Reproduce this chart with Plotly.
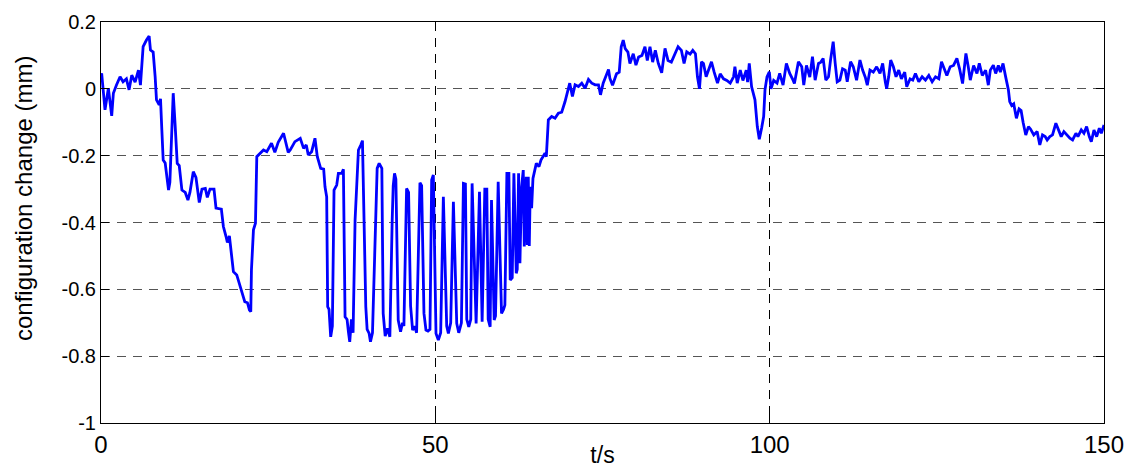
import plotly.graph_objects as go

# time samples (s) and configuration change (mm) traced along the record
t_s = [
    0, 0.1, 0.6, 1.1, 1.6, 1.85, 2.3, 2.85, 3.3, 3.8, 4.2, 4.6, 5.1, 5.6, 5.9,
    6.3, 6.8, 7.2, 7.4, 7.8, 8.1, 8.3, 8.7, 8.9, 9.1, 9.3, 9.6, 10.1, 10.3, 10.6,
    10.8, 11.1, 11.4, 11.7, 12.1, 12.6, 13.0, 13.3, 13.8, 14.2, 14.7, 15.1, 15.6,
    15.9, 16.3, 16.9, 17.2, 18.0, 18.3, 18.7, 18.9, 19.2, 19.8, 20.3, 20.8, 21.2,
    21.5, 21.9, 22.2, 22.4, 22.5, 22.8, 23.1, 23.3, 23.8, 24.3, 24.8, 25.5, 26.0,
    26.5, 27.3, 28.0,
    28.3, 29.0, 29.8, 30.3, 30.7, 31.0, 31.5, 32.0, 32.35, 32.85, 33.3, 33.5,
    33.75, 33.9, 34.1, 34.35, 34.6, 34.85, 35.25, 35.5, 36.0, 36.25, 36.5, 36.8,
    37.0, 37.2, 37.45, 37.7, 38.0, 38.2, 38.5, 38.85, 39.1, 39.6, 39.8, 40.1,
    40.3, 40.6, 41.1, 41.3, 41.6, 42.0, 42.2, 42.5, 42.85, 43.2, 43.55, 43.7,
    43.9, 44.1, 44.45, 44.8, 45.1, 45.3, 45.7, 46.0, 46.3, 46.6, 46.9, 47.2,
    47.7, 47.95, 48.3, 48.6, 48.9, 49.2, 49.45, 49.7, 50.1, 50.45, 50.8, 51.2,
    51.7, 51.95, 52.3, 52.7, 53.2, 53.5, 53.9, 54.2, 54.5, 54.7, 55.0, 55.3,
    55.5, 56.0, 56.1, 56.6, 57.0, 57.4, 57.7, 57.9, 58.2, 58.4, 58.8, 59.0,
    59.4, 59.9, 60.2, 60.4, 60.7, 61.0, 61.2, 61.5, 61.75, 62.1, 62.25, 62.45,
    62.65, 62.9, 63.15, 63.3, 63.6, 63.75, 63.9, 64.05, 64.2, 64.4, 64.6, 65.1,
    65.5, 65.8, 66.4, 66.6, 66.9,
    67.4, 67.9, 68.4, 68.9, 69.4, 69.9, 70.1, 70.5, 70.9, 71.4, 71.9, 72.4,
    72.9, 73.4, 73.9, 74.4, 74.7, 75.1, 75.5, 75.9, 76.1, 76.5, 77.1, 77.5,
    77.8, 78.1, 78.4, 78.8, 79.1, 79.6, 80.0, 80.4, 80.9, 81.35, 81.7, 82.1,
    82.5, 82.9, 83.35, 83.85, 84.35, 84.8, 85.3, 85.8, 86.3, 86.8, 87.2, 87.6,
    88.1, 88.5, 88.9, 89.2, 89.5, 89.8, 90.1, 90.5, 90.85, 91.3, 91.7, 92.2,
    92.6, 93.1, 93.6, 94.1, 94.6, 94.8, 95.15, 95.6, 96.0, 96.5, 96.7, 96.95,
    97.3, 97.8, 98.15, 98.45, 98.8, 99.1, 99.3, 99.6, 99.95, 100.2, 100.6,
    101.1, 101.5, 102.0, 102.5, 103.0, 103.5, 103.7, 104.3,
    104.8, 105.1, 105.5, 106.0, 106.4, 106.8, 107.3, 107.65, 108.0, 108.4,
    108.8, 109.1, 109.5, 109.8, 110.1, 110.5, 110.9, 111.3, 111.6, 112.1,
    112.5, 113.0, 113.5, 113.9, 114.3, 114.6, 115.0, 115.5, 116.0, 116.5,
    116.9, 117.3, 117.5, 117.8, 118.1, 118.5, 118.9, 119.3, 119.7, 120.2,
    120.5, 121.0, 121.4, 121.8, 122.3, 122.8, 123.3, 123.8, 124.3, 124.8,
    125.3, 125.7, 126.1, 126.5, 127.0, 127.5, 128.0, 128.4, 128.85, 129.35,
    129.7, 130.0, 130.5, 131.0, 131.35, 131.8, 132.3, 132.7, 133.0, 133.45,
    133.8, 134.2, 134.5, 134.9, 135.3, 135.7, 135.9, 136.2, 136.5, 136.9,
    137.3, 137.6, 137.9, 138.3, 138.7, 139.0, 139.5, 140.0, 140.4, 140.8,
    141.2, 141.5, 141.9, 142.3, 142.8, 143.15, 143.6, 144.0, 144.4, 144.9,
    145.3, 145.8, 146.1, 146.6, 147.0, 147.4, 147.8, 148.1, 148.5, 148.9,
    149.3, 149.6, 150.0,
]

change_mm = [
    0.04, 0.046, -0.063, 0.002, -0.081, -0.013, 0.011, 0.036, 0.021, 0.03,
    -0.003, 0.041, 0.02, 0.056, 0.011, 0.126, 0.146, 0.158, 0.116, 0.11, 0.036,
    -0.033, -0.048, -0.03, -0.123, -0.213, -0.222, -0.303, -0.28, -0.143,
    -0.013, -0.113, -0.223, -0.23, -0.303, -0.31, -0.333, -0.31, -0.248,
    -0.265, -0.34, -0.30, -0.298, -0.325, -0.30, -0.30, -0.357, -0.36, -0.412,
    -0.442, -0.46, -0.44, -0.547, -0.557, -0.592, -0.622, -0.637, -0.64,
    -0.662, -0.667, -0.542, -0.422, -0.402, -0.203, -0.193, -0.183, -0.188,
    -0.163, -0.19, -0.16, -0.133, -0.19,
    -0.183, -0.158, -0.148, -0.178, -0.168, -0.198, -0.188, -0.148, -0.203,
    -0.238, -0.24, -0.293, -0.323, -0.652, -0.66, -0.742, -0.71, -0.303,
    -0.288, -0.253, -0.253, -0.241, -0.682, -0.69, -0.727, -0.757, -0.69,
    -0.73, -0.392, -0.298, -0.183, -0.168, -0.155, -0.652, -0.72, -0.732,
    -0.757, -0.73, -0.392, -0.238, -0.223, -0.238, -0.672, -0.74, -0.717,
    -0.742, -0.392, -0.29, -0.253, -0.27, -0.692, -0.727, -0.70, -0.71,
    -0.298, -0.31, -0.65, -0.722, -0.71, -0.73, -0.281, -0.29, -0.672,
    -0.722, -0.725, -0.72, -0.273, -0.258, -0.732, -0.752, -0.73, -0.323,
    -0.71, -0.732, -0.70, -0.338, -0.702, -0.73, -0.70, -0.283, -0.285,
    -0.69, -0.712, -0.69, -0.283, -0.69, -0.702, -0.308, -0.697, -0.30,
    -0.30, -0.69, -0.712, -0.333, -0.692, -0.68, -0.278, -0.672, -0.66,
    -0.647, -0.253, -0.253, -0.572, -0.565, -0.253, -0.552, -0.54, -0.253,
    -0.522, -0.293, -0.243, -0.472, -0.263, -0.467, -0.263, -0.47, -0.293,
    -0.357, -0.268, -0.223, -0.233, -0.213, -0.193, -0.203, -0.093,
    -0.083, -0.088, -0.073, -0.07, -0.038, 0.002, 0.017, -0.023, 0.012,
    0.007, 0.017, 0.002, 0.028, 0.017, 0.012, 0.012, -0.018, 0.017, 0.037,
    0.058, 0.032, 0.011, 0.045, 0.05, 0.126, 0.146, 0.12, 0.11, 0.076, 0.105,
    0.071, 0.095, 0.10, 0.126, 0.085, 0.126, 0.08, 0.115, 0.076, 0.048,
    0.121, 0.085, 0.08, 0.105, 0.126, 0.115, 0.076, 0.111, 0.104, 0.115,
    0.105, 0.036, 0.0, 0.081, 0.076, 0.036, 0.056, 0.081, 0.05, 0.017, 0.045,
    0.03, 0.025, 0.017, 0.036, 0.066, 0.017, 0.056, 0.025, 0.056, 0.02,
    0.076, 0.006, -0.033, -0.113, -0.151, -0.117, -0.083, -0.003, 0.036,
    0.051, 0.0, 0.025, 0.017, 0.046, 0.011, 0.076, 0.046, 0.026, 0.016, 0.081,
    0.066, 0.011, 0.07, 0.035, 0.096, 0.026, 0.076, 0.08, 0.091, 0.026,
    0.036, 0.086, 0.141, 0.076, 0.021, 0.026, 0.06, 0.056, 0.021, 0.081,
    0.066, 0.026, 0.086, 0.056, 0.035, 0.011, 0.056, 0.05, 0.066, 0.046,
    0.076, 0.02, 0.0, 0.036, 0.086, 0.066, 0.036, 0.056, 0.03, 0.05,
    0.006, 0.03, 0.026, 0.046, 0.021, 0.036, 0.026, 0.04, 0.021, 0.036,
    0.03, 0.081, 0.06, 0.04, 0.066, 0.07, 0.091, 0.06, 0.016, 0.106,
    0.066, 0.026, 0.07, 0.046, 0.076, 0.04, 0.056, 0.011, 0.056, 0.071,
    0.046, 0.07, 0.05, 0.076, 0.035, -0.003, -0.038, -0.05, -0.045, -0.088,
    -0.06, -0.065, -0.1, -0.138, -0.113, -0.12, -0.138, -0.128, -0.168, -0.138,
    -0.143, -0.153, -0.143, -0.138, -0.103, -0.123, -0.143, -0.128, -0.138, -0.148,
    -0.153, -0.133, -0.143, -0.123, -0.133, -0.113, -0.143, -0.158, -0.123, -0.143,
    -0.118, -0.133, -0.108,
]

x_ticks = [0, 50, 100, 150]
y_ticks = [-1, -0.8, -0.6, -0.4, -0.2, 0, 0.2]
y_tick_text = ["-1", "-0.8", "-0.6", "-0.4", "-0.2", "0", "0.2"]

sans = "Liberation Sans, Arial, sans-serif"
narrow = "Liberation Sans Narrow, Arial Narrow, Liberation Sans, sans-serif"

# plot area in pixels
W, H = 1129, 468
ML, MR, MT, MB = 101, 25, 22, 45
plot_w = W - ML - MR
plot_h = H - MT - MB

fig = go.Figure()
fig.add_trace(go.Scatter(
    x=t_s, y=change_mm, mode="lines",
    line=dict(color="#0000ff", width=2.8),
    showlegend=False, hoverinfo="skip",
))

fig.update_layout(
    width=W, height=H,
    margin=dict(l=ML, r=MR, t=MT, b=MB),
    paper_bgcolor="white", plot_bgcolor="white",
    font=dict(family=sans, size=20, color="black"),
)

fig.update_xaxes(
    range=[0, 150], tickvals=x_ticks, ticktext=[str(v) for v in x_ticks],
    automargin=False,
    showline=True, linecolor="black", linewidth=1, mirror="allticks",
    ticks="inside", ticklen=8, tickcolor="black",
    showgrid=True, gridcolor="black", gridwidth=1, griddash="9px,7px",
    zeroline=False,
    tickfont=dict(family=narrow, size=24),
    title=dict(text="t/s", font=dict(family=narrow, size=23), standoff=0),
)
fig.update_yaxes(
    range=[-1, 0.2], tickvals=y_ticks, ticktext=y_tick_text,
    automargin=False,
    showline=True, linecolor="black", linewidth=1, mirror="allticks",
    ticks="inside", ticklen=8, tickcolor="black",
    showgrid=True, gridcolor="#555555", gridwidth=1, griddash="9px,7px",
    zeroline=False,
    tickfont=dict(family=sans, size=20),
)

# vertical axis label, placed as rotated text left of the tick labels
fig.add_annotation(
    text="configuration change (mm)", textangle=-90,
    xref="paper", yref="paper",
    x=(23 - ML) / plot_w, y=(H - MB - 199) / plot_h,
    xanchor="center", yanchor="middle", showarrow=False,
    font=dict(family=sans, size=24, color="black"),
)

fig.write_html("out.html")
